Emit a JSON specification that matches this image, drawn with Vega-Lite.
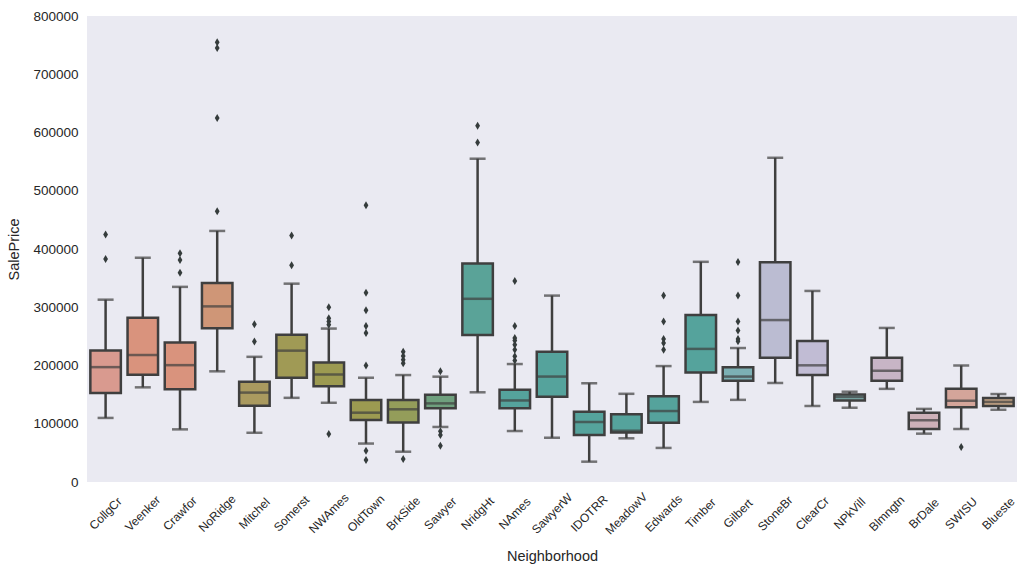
{
  "$schema": "https://vega.github.io/schema/vega-lite/v6.json",
  "autosize": {"type": "none"},
  "padding": {"left": 87, "top": 16, "right": 12, "bottom": 94},
  "width": 930,
  "height": 466,
  "background": "white",
  "config": {
    "view": {"fill": "#EAEAF2", "stroke": null},
    "axis": {
      "domain": false, "ticks": false, "grid": false,
      "labelFont": "Liberation Sans", "titleFont": "Liberation Sans",
      "labelFontSize": 13.5, "titleFontSize": 14.5, "labelColor": "#262626", "titleColor": "#262626",
      "titleFontWeight": "normal"
    }
  },
  "datasets": {
    "boxes": [
      {"Neighborhood": "CollgCr", "lower": 110000, "q1": 152900, "median": 197200, "q3": 225700, "upper": 313000},
      {"Neighborhood": "Veenker", "lower": 162500, "q1": 184000, "median": 218000, "q3": 282000, "upper": 385000},
      {"Neighborhood": "Crawfor", "lower": 90350, "q1": 159300, "median": 200600, "q3": 239600, "upper": 335000},
      {"Neighborhood": "NoRidge", "lower": 190000, "q1": 264000, "median": 301500, "q3": 341600, "upper": 431000},
      {"Neighborhood": "Mitchel", "lower": 84500, "q1": 131000, "median": 153500, "q3": 172000, "upper": 214900},
      {"Neighborhood": "Somerst", "lower": 144500, "q1": 178800, "median": 225500, "q3": 253000, "upper": 340500},
      {"Neighborhood": "NWAmes", "lower": 136000, "q1": 164500, "median": 184600, "q3": 205000, "upper": 263400},
      {"Neighborhood": "OldTown", "lower": 66000, "q1": 106500, "median": 119000, "q3": 140700, "upper": 179000},
      {"Neighborhood": "BrkSide", "lower": 52000, "q1": 102000, "median": 124800, "q3": 140800, "upper": 183600},
      {"Neighborhood": "Sawyer", "lower": 94500, "q1": 126500, "median": 135000, "q3": 149800, "upper": 180800},
      {"Neighborhood": "NridgHt", "lower": 154000, "q1": 252500, "median": 314500, "q3": 375000, "upper": 555000},
      {"Neighborhood": "NAmes", "lower": 87500, "q1": 126500, "median": 140000, "q3": 158500, "upper": 202500},
      {"Neighborhood": "SawyerW", "lower": 76000, "q1": 146500, "median": 181000, "q3": 223800, "upper": 320000},
      {"Neighborhood": "IDOTRR", "lower": 34900, "q1": 80800, "median": 103000, "q3": 120500, "upper": 169500},
      {"Neighborhood": "MeadowV", "lower": 75000, "q1": 84800, "median": 88000, "q3": 116300, "upper": 151400},
      {"Neighborhood": "Edwards", "lower": 58500, "q1": 101800, "median": 121800, "q3": 147000, "upper": 199000},
      {"Neighborhood": "Timber", "lower": 137500, "q1": 187800, "median": 228500, "q3": 286800, "upper": 378000},
      {"Neighborhood": "Gilbert", "lower": 141000, "q1": 174000, "median": 181000, "q3": 197200, "upper": 230000},
      {"Neighborhood": "StoneBr", "lower": 170000, "q1": 213500, "median": 278000, "q3": 377400, "upper": 556600},
      {"Neighborhood": "ClearCr", "lower": 130500, "q1": 183800, "median": 200300, "q3": 242200, "upper": 328000},
      {"Neighborhood": "NPkVill", "lower": 127500, "q1": 140000, "median": 146000, "q3": 150300, "upper": 155000},
      {"Neighborhood": "Blmngtn", "lower": 159900, "q1": 174000, "median": 191000, "q3": 213500, "upper": 264500},
      {"Neighborhood": "BrDale", "lower": 83000, "q1": 91000, "median": 106000, "q3": 118800, "upper": 125500},
      {"Neighborhood": "SWISU", "lower": 91000, "q1": 128200, "median": 139500, "q3": 160300, "upper": 200000},
      {"Neighborhood": "Blueste", "lower": 124000, "q1": 130500, "median": 137500, "q3": 144200, "upper": 151000}
    ],
    "outliers": [
      {"Neighborhood": "CollgCr", "SalePrice": 424870},
      {"Neighborhood": "CollgCr", "SalePrice": 383000},
      {"Neighborhood": "Crawfor", "SalePrice": 392500},
      {"Neighborhood": "Crawfor", "SalePrice": 381000},
      {"Neighborhood": "Crawfor", "SalePrice": 359100},
      {"Neighborhood": "NoRidge", "SalePrice": 755000},
      {"Neighborhood": "NoRidge", "SalePrice": 745000},
      {"Neighborhood": "NoRidge", "SalePrice": 625000},
      {"Neighborhood": "NoRidge", "SalePrice": 465000},
      {"Neighborhood": "Mitchel", "SalePrice": 271000},
      {"Neighborhood": "Mitchel", "SalePrice": 241000},
      {"Neighborhood": "Somerst", "SalePrice": 423000},
      {"Neighborhood": "Somerst", "SalePrice": 372000},
      {"Neighborhood": "NWAmes", "SalePrice": 299800},
      {"Neighborhood": "NWAmes", "SalePrice": 281000},
      {"Neighborhood": "NWAmes", "SalePrice": 275500},
      {"Neighborhood": "NWAmes", "SalePrice": 270000},
      {"Neighborhood": "NWAmes", "SalePrice": 82500},
      {"Neighborhood": "OldTown", "SalePrice": 475000},
      {"Neighborhood": "OldTown", "SalePrice": 325000},
      {"Neighborhood": "OldTown", "SalePrice": 295000},
      {"Neighborhood": "OldTown", "SalePrice": 268000},
      {"Neighborhood": "OldTown", "SalePrice": 256000},
      {"Neighborhood": "OldTown", "SalePrice": 200000},
      {"Neighborhood": "OldTown", "SalePrice": 53500},
      {"Neighborhood": "OldTown", "SalePrice": 37900},
      {"Neighborhood": "BrkSide", "SalePrice": 223500},
      {"Neighborhood": "BrkSide", "SalePrice": 216500},
      {"Neighborhood": "BrkSide", "SalePrice": 210000},
      {"Neighborhood": "BrkSide", "SalePrice": 204000},
      {"Neighborhood": "BrkSide", "SalePrice": 39300},
      {"Neighborhood": "Sawyer", "SalePrice": 190000},
      {"Neighborhood": "Sawyer", "SalePrice": 87000},
      {"Neighborhood": "Sawyer", "SalePrice": 80500},
      {"Neighborhood": "Sawyer", "SalePrice": 62400},
      {"Neighborhood": "NridgHt", "SalePrice": 611700},
      {"Neighborhood": "NridgHt", "SalePrice": 582900},
      {"Neighborhood": "NAmes", "SalePrice": 345000},
      {"Neighborhood": "NAmes", "SalePrice": 268000},
      {"Neighborhood": "NAmes", "SalePrice": 247000},
      {"Neighborhood": "NAmes", "SalePrice": 243000},
      {"Neighborhood": "NAmes", "SalePrice": 235500},
      {"Neighborhood": "NAmes", "SalePrice": 227000},
      {"Neighborhood": "NAmes", "SalePrice": 216000},
      {"Neighborhood": "NAmes", "SalePrice": 208500},
      {"Neighborhood": "Edwards", "SalePrice": 320000},
      {"Neighborhood": "Edwards", "SalePrice": 275500},
      {"Neighborhood": "Edwards", "SalePrice": 245300},
      {"Neighborhood": "Edwards", "SalePrice": 238500},
      {"Neighborhood": "Edwards", "SalePrice": 227000},
      {"Neighborhood": "Gilbert", "SalePrice": 377500},
      {"Neighborhood": "Gilbert", "SalePrice": 320000},
      {"Neighborhood": "Gilbert", "SalePrice": 275500},
      {"Neighborhood": "Gilbert", "SalePrice": 260000},
      {"Neighborhood": "Gilbert", "SalePrice": 245500},
      {"Neighborhood": "Gilbert", "SalePrice": 241500},
      {"Neighborhood": "SWISU", "SalePrice": 60000}
    ]
  },
  "encoding": {
    "x": {
      "field": "Neighborhood", "type": "nominal", "title": "Neighborhood",
      "sort": ["CollgCr","Veenker","Crawfor","NoRidge","Mitchel","Somerst","NWAmes","OldTown","BrkSide","Sawyer","NridgHt","NAmes","SawyerW","IDOTRR","MeadowV","Edwards","Timber","Gilbert","StoneBr","ClearCr","NPkVill","Blmngtn","BrDale","SWISU","Blueste"],
      "scale": {"paddingInner": 0, "paddingOuter": 0},
      "axis": {"labelAngle": -45, "labelAlign": "center", "labelBaseline": "middle", "labelFontSize": 12, "labelPadding": 31, "titlePadding": 13}
    }
  },
  "layer": [
    {
      "data": {"name": "boxes"},
      "mark": {"type": "rule", "color": "#3f3f3f", "strokeWidth": 2.5},
      "encoding": {
        "y": {"field": "lower", "type": "quantitative", "title": "SalePrice",
              "scale": {"domain": [0, 800000], "nice": false},
              "axis": {"values": [0,100000,200000,300000,400000,500000,600000,700000,800000], "format": "d", "labelPadding": 9, "titlePadding": 11}},
        "y2": {"field": "upper"}
      }
    },
    {
      "data": {"name": "boxes"},
      "mark": {"type": "tick", "color": "#3f3f3f", "thickness": 2.5, "size": 16},
      "encoding": {"y": {"field": "lower", "type": "quantitative"}}
    },
    {
      "data": {"name": "boxes"},
      "mark": {"type": "tick", "color": "#3f3f3f", "thickness": 2.5, "size": 16},
      "encoding": {"y": {"field": "upper", "type": "quantitative"}}
    },
    {
      "data": {"name": "boxes"},
      "mark": {"type": "bar", "width": {"band": 0.82}, "stroke": "#3f3f3f", "strokeWidth": 2.5, "fillOpacity": 1},
      "encoding": {
        "y": {"field": "q1", "type": "quantitative"},
        "y2": {"field": "q3"},
        "fill": {
          "field": "Neighborhood", "type": "nominal", "legend": null,
          "scale": {
            "domain": ["CollgCr","Veenker","Crawfor","NoRidge","Mitchel","Somerst","NWAmes","OldTown","BrkSide","Sawyer","NridgHt","NAmes","SawyerW","IDOTRR","MeadowV","Edwards","Timber","Gilbert","StoneBr","ClearCr","NPkVill","Blmngtn","BrDale","SWISU","Blueste"],
            "range": ["#d99a8f","#d9937d","#d9937d","#cf9677","#aa9a5f","#a09a55","#9c9a51","#9c9a51","#949d5a","#6fa07e","#5aa398","#55a39c","#55a39c","#55a39c","#55a39c","#55a39c","#55a39c","#7cb0b4","#bbbcd2","#c1bcd4","#7fb0ae","#c7b5c6","#cdb0b8","#d4a59a","#c4a486"]
          }
        }
      }
    },
    {
      "data": {"name": "boxes"},
      "mark": {"type": "tick", "color": "#3f3f3f", "thickness": 2.5, "size": 30},
      "encoding": {"y": {"field": "median", "type": "quantitative"}}
    },
    {
      "data": {"name": "outliers"},
      "mark": {"type": "point", "shape": "M0,-1L0.6,0L0,1L-0.6,0Z", "filled": true, "color": "#353c3c", "opacity": 1, "size": 64},
      "encoding": {"y": {"field": "SalePrice", "type": "quantitative"}}
    }
  ]
}
